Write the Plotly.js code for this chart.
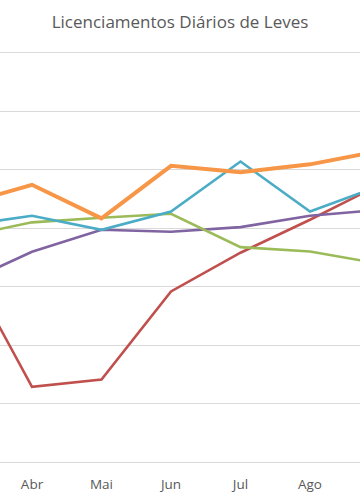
<!DOCTYPE html>
<html>
<head>
<meta charset="utf-8">
<script src="https://cdn.plot.ly/plotly-3.0.1.min.js"></script>
<style>html,body{margin:0;padding:0;background:#fff}#chart{width:360px;height:504px}</style>
</head>
<body>
<div id="chart"></div>
<script>
const months = ["Mar", "Abr", "Mai", "Jun", "Jul", "Ago", "Set"];
const seriesOrange = [2201, 2372, 2085, 2534, 2479, 2547, 2662];
const seriesCyan   = [2021, 2107, 1987, 2144, 2571, 2144, 2363];
const seriesGreen  = [1927, 2051, 2090, 2124, 1839, 1802, 1697];
const seriesPurple = [1526, 1799, 1987, 1970, 2010, 2107, 2158];
const seriesRed    = [1739, 643, 705, 1460, 1791, 2073, 2372];

function line(y, color, width) {
  return {x: months, y: y, type: "scatter", mode: "lines",
          line: {color: color, width: width}, hoverinfo: "skip"};
}
const data = [
  line(seriesRed, "#C0504D", 2.6),
  line(seriesPurple, "#8064A2", 2.6),
  line(seriesGreen, "#9BBB59", 2.6),
  line(seriesCyan, "#4BACC6", 2.6),
  line(seriesOrange, "#F79646", 4)
];
const layout = {
  width: 360, height: 504,
  margin: {l: 0, r: 0, t: 53, b: 41.5},
  paper_bgcolor: "#ffffff", plot_bgcolor: "#ffffff",
  showlegend: false,
  title: {text: "Licenciamentos Diários de Leves", x: 0.5, xanchor: "center",
          y: 1 - 22/504, yanchor: "middle",
          font: {family: "Open Sans", size: 17, color: "#595959"}},
  xaxis: {type: "category", range: [0.5396, 5.7194], showgrid: false,
          showline: true, mirror: true, linecolor: "#D9D9D9", linewidth: 1, ticks: "",
          ticklabelstandoff: 10,
          tickfont: {family: "Open Sans", size: 13.5, color: "#595959"}, zeroline: false},
  yaxis: {range: [0, 3500], dtick: 500, showgrid: true, gridcolor: "#D9D9D9",
          gridwidth: 1, showticklabels: false, zeroline: false, ticks: ""}
};
Plotly.newPlot("chart", data, layout, {staticPlot: true, displayModeBar: false});
</script>
</body>
</html>
